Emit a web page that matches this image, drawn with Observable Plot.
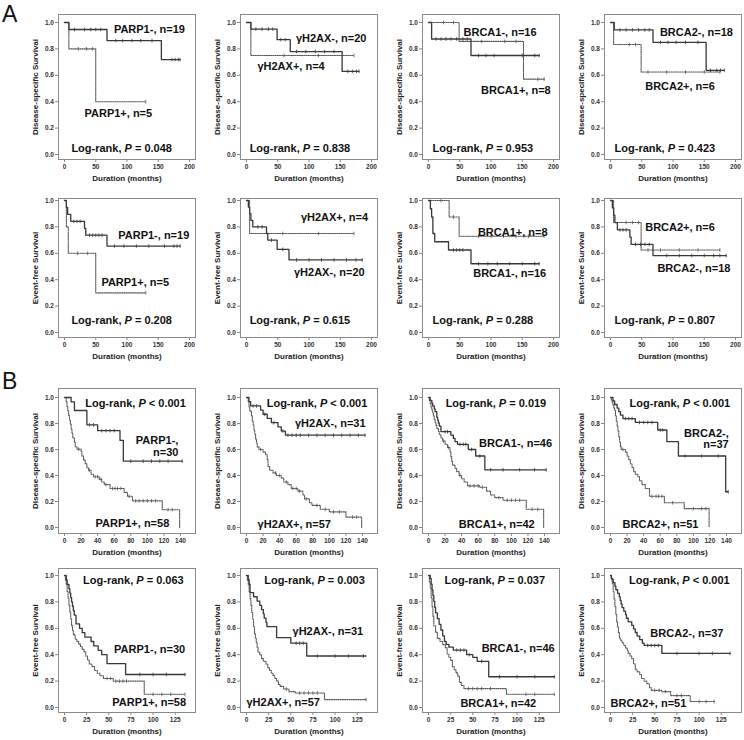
<!DOCTYPE html>
<html><head><meta charset="utf-8">
<script src="https://cdn.jsdelivr.net/npm/d3@7"></script>
<script src="https://cdn.jsdelivr.net/npm/@observablehq/plot@0.6"></script>
<style>
body{margin:0;background:#fff;}
#fig{position:relative;width:744px;height:740px;overflow:hidden;background:#fff;}
.panel{position:absolute;}
.panel svg{overflow:visible;}
</style></head><body><div id="fig"></div>
<script>
// ---------- tick labels ----------
const xTicksA = [0, 50, 100, 150, 200];
const xTicksBdss = [0, 20, 40, 60, 80, 100, 120, 140];
const xTicksBefs = [0, 25, 50, 75, 100, 125];
const yTicks = [0, 0.2, 0.4, 0.6, 0.8, 1.0];

// ---------- A: disease-specific survival ----------
const aDssParp1Neg = [[0,1],[7,0.947],[68,0.863],[155,0.719],[185,0.719]];
const aDssParp1NegCens = [16,32,42,50,58,82,93,108,122,140,172,177,182,185];
const aDssParp1Pos = [[0,1],[7,0.8],[50,0.4],[130,0.4]];
const aDssParp1PosCens = [22,35,45,130];

const aDssH2axNeg = [[0,1],[7,0.95],[49,0.87],[70,0.78],[153,0.63],[180,0.63]];
const aDssH2axNegCens = [15,25,35,42,55,62,80,95,110,125,140,162,170,176,180];
const aDssH2axPos = [[0,1],[7,0.75],[172,0.75]];
const aDssH2axPosCens = [60,115,172];

const aDssBrca1Neg = [[0,1],[5,0.875],[68,0.75],[177,0.75]];
const aDssBrca1NegCens = [12,20,28,36,45,55,62,80,92,105,150,170,177];
const aDssBrca1Pos = [[0,1],[49,0.857],[152,0.571],[185,0.571]];
const aDssBrca1PosCens = [24,40,85,122,140,175,185];

const aDssBrca2Neg = [[0,1],[6,0.944],[68,0.85],[153,0.638],[182,0.638]];
const aDssBrca2NegCens = [15,25,35,45,55,62,80,92,105,120,140,160,170,176,182];
const aDssBrca2Pos = [[0,1],[5,0.833],[49,0.625],[175,0.625]];
const aDssBrca2PosCens = [30,40,60,90,120,150,175];

// ---------- A: event-free survival ----------
const aEfsParp1Neg = [[0,1],[3,0.947],[5,0.895],[10,0.842],[32,0.789],[34,0.737],[68,0.655],[185,0.655]];
const aEfsParp1NegCens = [15,20,25,40,45,50,55,60,80,95,115,135,160,175,180,185];
const aEfsParp1Pos = [[0,1],[3,0.8],[6,0.6],[50,0.3],[130,0.3]];
const aEfsParp1PosCens = [21,37,130];

const aEfsH2axNeg = [[0,1],[3,0.95],[5,0.9],[7,0.85],[10,0.8],[32,0.75],[34,0.7],[49,0.63],[68,0.55],[185,0.55]];
const aEfsH2axNegCens = [18,25,40,58,80,100,120,140,160,175,185];
const aEfsH2axPos = [[0,1],[5,0.75],[172,0.75]];
const aEfsH2axPosCens = [58,115,172];

const aEfsBrca1Neg = [[0,1],[3,0.9375],[5,0.875],[7,0.75],[10,0.6875],[32,0.625],[68,0.521],[177,0.521]];
const aEfsBrca1NegCens = [40,45,50,55,80,95,110,130,150,170,177];
const aEfsBrca1Pos = [[0,1],[33,0.875],[49,0.729],[185,0.729]];
const aEfsBrca1PosCens = [20,40,80,100,120,140,160,185];

const aEfsBrca2Neg = [[0,1],[3,0.944],[5,0.889],[7,0.833],[11,0.778],[31,0.722],[33,0.667],[68,0.583],[185,0.583]];
const aEfsBrca2NegCens = [15,20,25,40,48,55,62,90,110,130,150,165,175,185];
const aEfsBrca2Pos = [[0,1],[5,0.833],[49,0.625],[175,0.625]];
const aEfsBrca2PosCens = [25,35,45,60,80,110,140,175];

// ---------- B: disease-specific survival ----------
const bDssParp1Neg = [[0,1],[8,0.967],[12,0.9],[27,0.79],[40,0.745],[67,0.67],[71,0.51],[142,0.51]];
const bDssParp1NegCens = [30,35,45,50,55,60,80,95,105,115,125,142];
const bDssParp1Pos = [[0,1],[2,0.966],[3,0.931],[4,0.897],[5,0.862],[6,0.828],[7,0.793],[8,0.759],[9,0.724],[10,0.69],[12,0.655],[13,0.621],[15,0.603],[20,0.586],[21,0.55],[23,0.52],[25,0.49],[27,0.46],[29,0.44],[32,0.41],[35,0.39],[42,0.37],[45,0.35],[48,0.33],[55,0.30],[72,0.27],[76,0.24],[82,0.205],[118,0.137],[139,0]];
const bDssParp1PosCens = [17,30,37,40,44,50,58,61,64,68,78,86,90,95,100,105,110,125,130];

const bDssH2axNeg = [[0,1],[3,0.968],[5,0.935],[17,0.903],[20,0.871],[25,0.839],[30,0.806],[38,0.774],[42,0.742],[47,0.71],[143,0.71]];
const bDssH2axNegCens = [8,12,22,33,44,50,55,60,65,75,85,95,105,115,125,135,143];
const bDssH2axPos = [[0,1],[2,0.965],[3,0.93],[4,0.895],[6,0.86],[7,0.82],[8,0.79],[9,0.75],[10,0.72],[11,0.68],[12,0.65],[13,0.62],[15,0.60],[20,0.58],[23,0.56],[25,0.52],[26,0.47],[28,0.44],[32,0.42],[36,0.40],[42,0.38],[45,0.35],[50,0.33],[54,0.30],[62,0.28],[68,0.25],[70,0.22],[76,0.19],[79,0.17],[89,0.14],[100,0.12],[120,0.08],[139,0]];
const bDssH2axPosCens = [17,35,40,48,56,60,64,72,85,95,105,112,128,133];

const bDssBrca1Neg = [[0,1],[2,0.978],[4,0.957],[5,0.935],[7,0.913],[8,0.891],[10,0.848],[11,0.826],[12,0.804],[13,0.78],[15,0.737],[27,0.71],[30,0.685],[32,0.66],[35,0.64],[48,0.6],[57,0.55],[68,0.444],[142,0.444]];
const bDssBrca1NegCens = [20,23,38,42,45,52,62,75,90,110,128,142];
const bDssBrca1Pos = [[0,1],[1,0.976],[2,0.952],[3,0.929],[4,0.905],[5,0.881],[6,0.857],[7,0.833],[8,0.81],[9,0.786],[10,0.762],[12,0.738],[13,0.714],[15,0.69],[17,0.665],[20,0.64],[23,0.615],[26,0.58],[27,0.545],[28,0.51],[29,0.48],[32,0.455],[34,0.43],[37,0.40],[40,0.375],[43,0.35],[47,0.32],[62,0.31],[70,0.28],[75,0.25],[80,0.23],[90,0.21],[118,0.14],[139,0]];
const bDssBrca1PosCens = [18,24,38,50,55,60,65,85,95,100,105,110,125,132];

const bDssBrca2Neg = [[0,1],[3,0.973],[5,0.946],[8,0.919],[10,0.892],[12,0.865],[15,0.838],[30,0.808],[57,0.75],[68,0.66],[82,0.55],[139,0.275],[142,0.275]];
const bDssBrca2NegCens = [18,22,26,35,40,45,50,60,63,90,110,130,142];
const bDssBrca2Pos = [[0,1],[1,0.98],[2,0.96],[3,0.94],[4,0.92],[5,0.90],[6,0.86],[7,0.82],[8,0.78],[9,0.74],[10,0.70],[11,0.66],[12,0.62],[13,0.6],[18,0.58],[20,0.55],[22,0.52],[24,0.49],[26,0.46],[28,0.43],[30,0.41],[33,0.39],[35,0.36],[38,0.33],[42,0.30],[47,0.24],[65,0.19],[89,0.145],[119,0]];
const bDssBrca2PosCens = [15,50,55,58,62,75,100,110,115];

// ---------- B: event-free survival ----------
const bEfsParp1Neg = [[0,1],[2,0.967],[3,0.933],[5,0.9],[6,0.867],[7,0.833],[8,0.8],[9,0.767],[10,0.733],[11,0.7],[13,0.633],[17,0.6],[20,0.567],[23,0.533],[30,0.5],[33,0.467],[38,0.433],[42,0.4],[48,0.333],[69,0.25],[136,0.25]];
const bEfsParp1NegCens = [85,100,115,136];
const bEfsParp1Pos = [[0,1],[1,0.966],[2,0.931],[3,0.879],[4,0.828],[5,0.776],[6,0.724],[7,0.672],[8,0.62],[9,0.586],[10,0.552],[12,0.517],[14,0.5],[16,0.48],[18,0.46],[20,0.44],[22,0.42],[24,0.39],[26,0.36],[28,0.33],[31,0.31],[34,0.28],[37,0.26],[40,0.24],[44,0.22],[55,0.2],[90,0.1],[136,0.1]];
const bEfsParp1PosCens = [48,52,58,62,66,70,100,110,120,136];

const bEfsH2axNeg = [[0,1],[2,0.968],[3,0.935],[4,0.871],[8,0.839],[12,0.806],[15,0.774],[17,0.742],[19,0.71],[20,0.677],[22,0.645],[23,0.613],[34,0.53],[50,0.487],[68,0.39],[135,0.39]];
const bEfsH2axNegCens = [56,60,64,80,100,115,132];
const bEfsH2axPos = [[0,1],[1,0.965],[2,0.93],[3,0.877],[4,0.825],[5,0.772],[6,0.72],[7,0.667],[8,0.614],[9,0.56],[10,0.526],[11,0.49],[12,0.456],[13,0.42],[15,0.40],[17,0.37],[19,0.35],[22,0.33],[24,0.30],[26,0.28],[28,0.26],[30,0.24],[32,0.22],[34,0.20],[36,0.175],[38,0.16],[42,0.14],[48,0.12],[55,0.11],[88,0.06],[135,0.06]];
const bEfsH2axPosCens = [45,60,65,70,75,80,135];

const bEfsBrca1Neg = [[0,1],[2,0.978],[3,0.935],[4,0.891],[5,0.848],[6,0.804],[7,0.76],[8,0.717],[10,0.674],[12,0.63],[14,0.587],[16,0.543],[18,0.5],[20,0.478],[23,0.457],[28,0.435],[43,0.40],[50,0.38],[55,0.35],[68,0.233],[142,0.233]];
const bEfsBrca1NegCens = [32,36,40,46,60,80,100,120,142];
const bEfsBrca1Pos = [[0,1],[1,0.952],[2,0.905],[3,0.833],[4,0.762],[5,0.69],[6,0.619],[8,0.571],[10,0.524],[13,0.5],[16,0.476],[19,0.452],[21,0.405],[23,0.381],[25,0.357],[27,0.31],[29,0.286],[31,0.262],[33,0.238],[35,0.19],[37,0.167],[40,0.143],[88,0.10],[142,0.10]];
const bEfsBrca1PosCens = [45,50,55,60,70,110,120,142];

const bEfsBrca2Neg = [[0,1],[1,0.973],[3,0.946],[5,0.919],[6,0.892],[8,0.865],[10,0.838],[11,0.811],[12,0.784],[13,0.757],[15,0.73],[17,0.703],[18,0.676],[20,0.649],[24,0.622],[26,0.595],[28,0.568],[30,0.541],[33,0.514],[36,0.487],[38,0.47],[58,0.41],[135,0.41]];
const bEfsBrca2NegCens = [42,46,50,54,75,100,115,135];
const bEfsBrca2Pos = [[0,1],[1,0.98],[2,0.941],[3,0.882],[4,0.824],[5,0.765],[6,0.706],[7,0.647],[8,0.608],[9,0.569],[10,0.529],[11,0.51],[13,0.49],[15,0.47],[17,0.45],[19,0.43],[20,0.41],[22,0.39],[24,0.37],[26,0.33],[28,0.29],[30,0.27],[33,0.25],[35,0.22],[38,0.2],[41,0.18],[44,0.15],[46,0.13],[58,0.12],[68,0.09],[90,0.045],[117,0.045]];
const bEfsBrca2PosCens = [50,55,62,75,80,100,108,117];

// ---------- annotations (text, month, survival, anchor) ----------
const labA1 = [["PARP1-, n=19",79,0.947],["PARP1+, n=5",32,0.31],["Log-rank, P = 0.048",11,0.045]];
const labA2 = [["γH2AX-, n=20",79,0.88],["γH2AX+, n=4",17.5,0.667],["Log-rank, P = 0.838",5,0.045]];
const labA3 = [["BRCA1-, n=16",56,0.924],["BRCA1+, n=8",84,0.485],["Log-rank, P = 0.953",6.5,0.045]];
const labA4 = [["BRCA2-, n=18",79,0.924],["BRCA2+, n=6",55.5,0.52],["Log-rank, P = 0.423",6.5,0.045]];
const labA5 = [["PARP1-, n=19",86,0.74],["PARP1+, n=5",59,0.38],["Log-rank, P = 0.208",11,0.09]];
const labA6 = [["γH2AX+, n=4",87,0.87],["γH2AX-, n=20",76,0.455],["Log-rank, P = 0.615",5,0.09]];
const labA7 = [["BRCA1+, n=8",79,0.76],["BRCA1-, n=16",71.5,0.447],["Log-rank, P = 0.288",6.5,0.09]];
const labA8 = [["BRCA2+, n=6",55.5,0.795],["BRCA2-, n=18",75,0.49],["Log-rank, P = 0.807",6.5,0.09]];
const labB1 = [["Log-rank, P < 0.001",25,0.954],["PARP1-,\nn=30",137.5,0.623,"end"],["PARP1+, n=58",37.4,0.03]];
const labB2 = [["Log-rank, P < 0.001",24.4,0.954],["γH2AX-, n=31",58.5,0.8],["γH2AX+, n=57",13.4,0.023]];
const labB3 = [["Log-rank, P = 0.019",20.7,0.954],["BRCA1-, n=46",61,0.646],["BRCA1+, n=42",36.6,0.023]];
const labB4 = [["Log-rank, P < 0.001",23,0.954],["BRCA2-,\nn=37",142.7,0.684,"end"],["BRCA2+, n=51",14.6,0.023]];
const labB5 = [["Log-rank, P = 0.063",21,0.962],["PARP1-, n=30",56,0.44],["PARP1+, n=58",54,0.04]];
const labB6 = [["Log-rank, P = 0.003",20,0.962],["γH2AX-, n=31",52,0.576],["γH2AX+, n=57",0,0.04]];
const labB7 = [["Log-rank, P = 0.037",18,0.962],["BRCA1-, n=46",60,0.447],["BRCA1+, n=42",36,0.03]];
const labB8 = [["Log-rank, P < 0.001",21,0.962],["BRCA2-, n=37",45,0.56],["BRCA2+, n=51",0,0.03]];

const yTitleDss = "Disease-specific Survival";
const yTitleEfs = "Event-free Survival";
const xTitle = "Duration (months)";

// ---------- layout ----------
const FONT = '"Liberation Sans", Arial, Helvetica, sans-serif';
const ML = 58, MR = 2, MT = 6, MB = 30, W = ML + 137 + MR;
const colLeft = [0, 182, 364, 546];
const rowGeo = [
  {top: 14, h: 145, it: 8, ib: 5},
  {top: 198, h: 139, it: 2, ib: 5},
  {top: 388, h: 145, it: 9, ib: 6},
  {top: 568, h: 144, it: 7, ib: 5}
];
const xA = {domain: [0, 200], ticks: xTicksA, inR: 6};
const xBd = {domain: [0, 140], ticks: xTicksBdss, inR: 15};
const xBe = {domain: [0, 140], ticks: xTicksBefs, inR: 7};

const panels = [
  [0,0,xA,yTitleDss,aDssParp1Neg,aDssParp1NegCens,aDssParp1Pos,aDssParp1PosCens,labA1],
  [0,1,xA,yTitleDss,aDssH2axNeg,aDssH2axNegCens,aDssH2axPos,aDssH2axPosCens,labA2],
  [0,2,xA,yTitleDss,aDssBrca1Neg,aDssBrca1NegCens,aDssBrca1Pos,aDssBrca1PosCens,labA3],
  [0,3,xA,yTitleDss,aDssBrca2Neg,aDssBrca2NegCens,aDssBrca2Pos,aDssBrca2PosCens,labA4],
  [1,0,xA,yTitleEfs,aEfsParp1Neg,aEfsParp1NegCens,aEfsParp1Pos,aEfsParp1PosCens,labA5],
  [1,1,xA,yTitleEfs,aEfsH2axNeg,aEfsH2axNegCens,aEfsH2axPos,aEfsH2axPosCens,labA6],
  [1,2,xA,yTitleEfs,aEfsBrca1Neg,aEfsBrca1NegCens,aEfsBrca1Pos,aEfsBrca1PosCens,labA7],
  [1,3,xA,yTitleEfs,aEfsBrca2Neg,aEfsBrca2NegCens,aEfsBrca2Pos,aEfsBrca2PosCens,labA8],
  [2,0,xBd,yTitleDss,bDssParp1Neg,bDssParp1NegCens,bDssParp1Pos,bDssParp1PosCens,labB1],
  [2,1,xBd,yTitleDss,bDssH2axNeg,bDssH2axNegCens,bDssH2axPos,bDssH2axPosCens,labB2],
  [2,2,xBd,yTitleDss,bDssBrca1Neg,bDssBrca1NegCens,bDssBrca1Pos,bDssBrca1PosCens,labB3],
  [2,3,xBd,yTitleDss,bDssBrca2Neg,bDssBrca2NegCens,bDssBrca2Pos,bDssBrca2PosCens,labB4],
  [3,0,xBe,yTitleEfs,bEfsParp1Neg,bEfsParp1NegCens,bEfsParp1Pos,bEfsParp1PosCens,labB5],
  [3,1,xBe,yTitleEfs,bEfsH2axNeg,bEfsH2axNegCens,bEfsH2axPos,bEfsH2axPosCens,labB6],
  [3,2,xBe,yTitleEfs,bEfsBrca1Neg,bEfsBrca1NegCens,bEfsBrca1Pos,bEfsBrca1PosCens,labB7],
  [3,3,xBe,yTitleEfs,bEfsBrca2Neg,bEfsBrca2NegCens,bEfsBrca2Pos,bEfsBrca2PosCens,labB8]
];

function stepAt(steps, t) {
  let s = steps[0][1];
  for (const [ti, si] of steps) if (ti <= t) s = si;
  return s;
}
const vtick = {draw(ctx, size) { const r = Math.sqrt(size / Math.PI); ctx.moveTo(0, -r); ctx.lineTo(0, r); }};

const SOLID = "#383838", DOT = "#555555";
const fig = document.getElementById("fig");
const labStyle = {x: "x", y: "y", text: "text", lineAnchor: "middle", lineHeight: 1.05,
                  fontSize: 11, fontWeight: "bold", fill: "#111"};

for (const [row, col, xs, yTitle, neg, negC, pos, posC, labs] of panels) {
  const g = rowGeo[row];
  const negCens = negC.map(t => ({t, s: stepAt(neg, t)}));
  const posCens = posC.map(t => ({t, s: stepAt(pos, t)}));
  const labData = labs.map(([text, x, y, anchor]) => ({text, x, y, anchor: anchor || "start"}));
  const svg = Plot.plot({
    width: W, height: MT + g.h + MB,
    marginLeft: ML, marginRight: MR, marginTop: MT, marginBottom: MB,
    style: {fontFamily: FONT, background: "transparent", overflow: "visible"},
    x: {domain: xs.domain, insetLeft: 6, insetRight: xs.inR},
    y: {domain: [0, 1], insetTop: g.it, insetBottom: g.ib},
    marks: [
      Plot.frame({stroke: "#8a8a8a", strokeWidth: 1}),
      Plot.axisX({ticks: xs.ticks, tickSize: 3, tickPadding: 1.5, fontSize: 6.5, fontWeight: "bold",
                  stroke: "#888", fill: "#333", label: null, tickFormat: d3.format("d")}),
      Plot.axisY({ticks: yTicks, tickSize: 3, tickPadding: 1.5, fontSize: 6.5, fontWeight: "bold",
                  stroke: "#888", fill: "#333", label: null, tickFormat: d3.format(".1f")}),
      Plot.line(pos, {x: d => d[0], y: d => d[1], curve: "step-after", stroke: DOT,
                      strokeWidth: 1.1, strokeDasharray: "1.1,1.1"}),
      Plot.line(neg, {x: d => d[0], y: d => d[1], curve: "step-after", stroke: SOLID, strokeWidth: 1.3}),
      Plot.dot(posCens, {x: "t", y: "s", symbol: vtick, r: 1.8, stroke: DOT, fill: "none", strokeWidth: 0.8}),
      Plot.dot(negCens, {x: "t", y: "s", symbol: vtick, r: 1.8, stroke: SOLID, fill: "none", strokeWidth: 0.8}),
      Plot.text(labData.filter(d => d.anchor === "start"), {...labStyle, textAnchor: "start"}),
      Plot.text(labData.filter(d => d.anchor === "end"), {...labStyle, textAnchor: "end"}),
      Plot.text([xTitle], {frameAnchor: "bottom", dy: 19, text: d => d, fontSize: 8, fontWeight: "bold",
                           fill: "#222", lineAnchor: "middle", textAnchor: "middle"}),
      Plot.text([yTitle], {frameAnchor: "left", dx: -23, rotate: -90, text: d => d, fontSize: 8,
                           fontWeight: "bold", fill: "#222", lineAnchor: "middle", textAnchor: "middle"})
    ]
  });
  // italic P in the log-rank annotations
  svg.querySelectorAll("text").forEach(t => {
    const s = t.textContent;
    if (s.startsWith("Log-rank, P")) {
      const rest = s.slice("Log-rank, P".length);
      t.textContent = "";
      t.append("Log-rank, ");
      const ts = document.createElementNS("http://www.w3.org/2000/svg", "tspan");
      ts.setAttribute("font-style", "italic");
      ts.textContent = "P";
      t.append(ts);
      t.append(rest);
    }
  });
  const div = document.createElement("div");
  div.className = "panel";
  div.style.left = colLeft[col] + "px";
  div.style.top = (g.top - MT) + "px";
  div.appendChild(svg);
  fig.appendChild(div);
}

// panel letters
const letters = [["A", 22], ["B", 389]];
const ls = d3.select(fig).append("svg").attr("width", 40).attr("height", 740)
  .style("position", "absolute").style("left", "0px").style("top", "0px");
for (const [ch, y] of letters) {
  ls.append("text").attr("x", 2).attr("y", y).attr("font-family", FONT)
    .attr("font-size", 23).attr("fill", "#111").text(ch);
}
</script></body></html>
